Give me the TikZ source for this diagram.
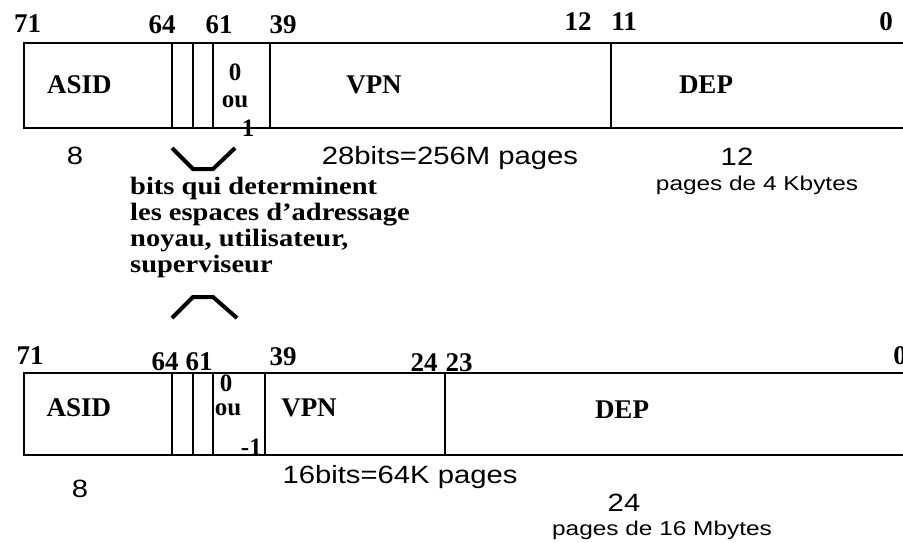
\documentclass[tikz,border=0pt]{standalone}
\usepackage{fontspec}
\setmainfont{Liberation Serif}
\newfontfamily\regfont{Liberation Serif}
\newfontfamily\notefont{Liberation Serif}[FakeStretch=1.14]
\newfontfamily\sansbig{Liberation Sans}[FakeStretch=1.17]
\newfontfamily\sanssmall{Liberation Sans}[FakeStretch=1.22]
\tikzset{
  bitnum/.style={font=\regfont\bfseries\fontsize{27}{29}\selectfont, inner sep=0pt, anchor=base},
  field/.style={font=\regfont\bfseries\fontsize{27}{29}\selectfont, inner sep=0pt, anchor=base},
  small/.style={font=\regfont\bfseries\fontsize{25}{27}\selectfont, inner sep=0pt, anchor=base},
  note/.style={font=\notefont\bfseries\fontsize{25}{28}\selectfont, inner sep=0pt, anchor=base west},
  sz/.style={font=\sansbig\fontsize{25}{27}\selectfont, inner sep=0pt, anchor=base},
  szsmall/.style={font=\sanssmall\fontsize{20}{22}\selectfont, inner sep=0pt, anchor=base},
  hline/.style={line width=2.6pt},
  vline/.style={line width=1.8pt},
  brace/.style={line width=4pt, line join=miter}
}
\begin{document}
\begin{tikzpicture}[x=1pt,y=-1pt]
\useasboundingbox (0,0) rectangle (903,542);
% ---------- top register ----------
\draw[hline] (903,43) -- (23,43);
\draw[hline] (23,128) -- (903,128);
\foreach \xx in {24,172,193,213,270,611}
  \draw[vline] (\xx,43) -- (\xx,128);
\node[bitnum] (t71) at (27.5,32) {71};
\node[bitnum] (t64) at (162,33) {64};
\node[bitnum] (t61) at (219,33) {61};
\node[bitnum] (t39) at (283,33) {39};
\node[bitnum] (t12) at (578,30) {12};
\node[bitnum] (t11) at (624,30) {11};
\node[bitnum] (t0) at (886,30) {0};
\node[field] (tasid) at (79.5,93) {ASID};
\node[small] (tz) at (235,80) {0};
\node[small] (tou) at (235,107) {ou};
\node[small] (tone) at (248,136) {1};
\node[field] (tvpn) at (374,93) {VPN};
\node[field] (tdep) at (706,93) {DEP};
\node[sz] (t8) at (75,164) {8};
\node[sz] (t28) at (450,164) {28bits=256M pages};
\node[sz] (t12b) at (737,165) {12};
\node[szsmall] (t4k) at (757,190) {pages de 4 Kbytes};
% ---------- brackets ----------
\draw[brace] (172,148) -- (193,169) -- (213,169) -- (235,148);
\node[note] (n1) at (130,194) {bits qui determinent};
\node[note] (n2) at (130,220) {les espaces d’adressage};
\node[note] (n3) at (130,246) {noyau, utilisateur,};
\node[note] (n4) at (130,272) {superviseur};
\draw[brace] (172,318) -- (193,297) -- (213,297) -- (237,318);
% ---------- bottom register ----------
\draw[hline] (903,373) -- (23,373);
\draw[hline] (23,455) -- (903,455);
\foreach \xx in {24,172,193,213,265,445}
  \draw[vline] (\xx,373) -- (\xx,455);
\node[bitnum] (b71) at (30,364) {71};
\node[bitnum] (b64) at (165,370) {64};
\node[bitnum] (b61) at (199,370) {61};
\node[bitnum] (b39) at (283,365) {39};
\node[bitnum] (b24) at (424,371) {24};
\node[bitnum] (b23) at (459,371) {23};
\node[bitnum] (b0) at (900,364) {0};
\node[field] (basid) at (79,416) {ASID};
\node[small] (bz) at (226,391) {0};
\node[small] (bou) at (228,415) {ou};
\node[small, anchor=base east] (bone) at (262,455) {-1};
\node[field] (bvpn) at (309,416) {VPN};
\node[field] (bdep) at (622,418) {DEP};
\node[sz] (b8) at (80,497) {8};
\node[sz] (b16) at (400,483) {16bits=64K pages};
\node[sz] (b24b) at (624,511) {24};
\node[szsmall] (b16m) at (662,535) {pages de 16 Mbytes};
\end{tikzpicture}
\end{document}
